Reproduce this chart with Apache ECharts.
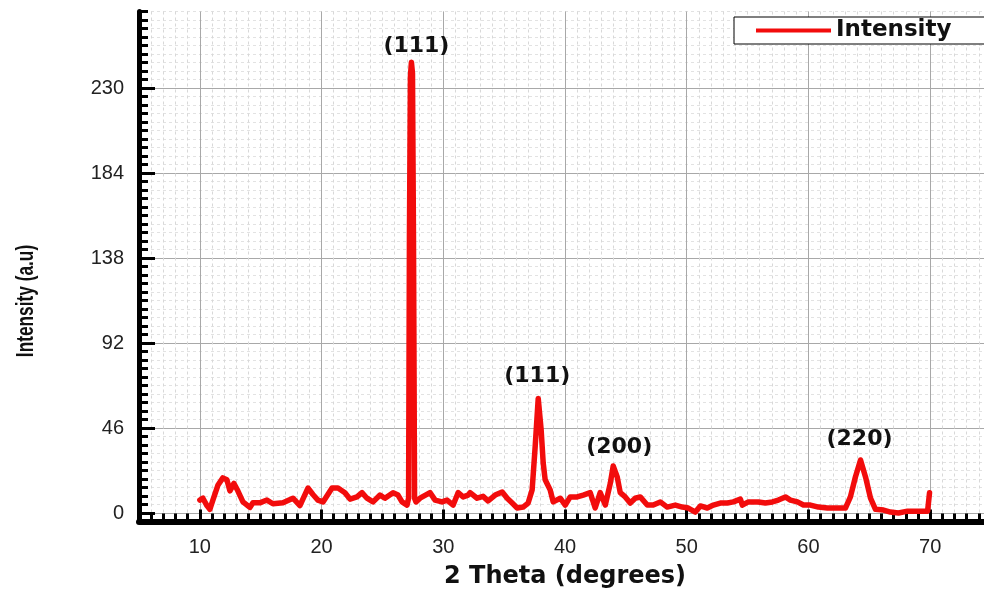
<!DOCTYPE html>
<html>
<head>
    <meta charset="utf-8">
    <script src="https://cdn.jsdelivr.net/npm/echarts@6/dist/echarts.min.js"></script>
    <style>
        html, body { margin: 0; padding: 0; background: #fff; }
        #chart { width: 984px; height: 591px; }
    </style>
</head>
<body>
<div id="chart"></div>
<script type="text/javascript">
    // 2 theta (degrees) and intensity (a.u)
    var twoTheta = [
        10.00, 10.25, 10.58, 10.82, 11.07, 11.48, 11.89, 12.22, 12.47, 12.80,
        13.12, 13.54, 14.11, 14.36, 14.93, 15.51, 16.00, 16.83, 17.65, 18.22,
        18.88, 19.29, 19.70, 20.12, 20.86, 21.35, 21.92, 22.34, 22.91, 23.32,
        23.73, 24.23, 24.80, 25.21, 25.87, 26.28, 26.61, 27.02, 27.15, 27.22,
        27.30, 27.38, 27.47, 27.55, 27.64, 27.76, 28.09, 28.91, 29.33, 29.90,
        30.31, 30.81, 31.22, 31.63, 32.04, 32.20, 32.78, 33.27, 33.68, 34.26,
        34.84, 35.25, 35.66, 36.07, 36.56, 36.97, 37.30, 37.55, 37.80, 38.04,
        38.21, 38.37, 38.78, 39.03, 39.61, 40.02, 40.43, 41.00, 41.50, 42.07,
        42.48, 42.89, 43.31, 43.72, 43.96, 44.29, 44.54, 44.95, 45.36, 45.77,
        46.18, 46.76, 47.25, 47.83, 48.40, 49.06, 49.64, 50.13, 50.71, 51.12,
        51.69, 52.19, 52.76, 53.34, 53.83, 54.41, 54.57, 55.07, 55.89, 56.46,
        57.04, 57.53, 58.11, 58.52, 59.10, 59.59, 60.16, 60.82, 61.56, 62.22,
        63.04, 63.45, 63.86, 64.28, 64.69, 65.10, 65.51, 66.17, 66.74, 67.40,
        68.14, 68.80, 69.46, 69.79, 69.95
    ];
    var intensity = [
        7, 8, 4, 2, 7, 15, 19, 18, 12, 16,
        12, 6, 3, 5.5, 5.5, 7, 5, 5.5, 8, 4,
        13.5, 10, 7, 6, 13.5, 13.5, 11, 7.5, 8.7, 11,
        8, 6, 9.7, 8, 11, 9.7, 6, 4.3, 8, 150,
        236, 244, 238, 150, 8, 6, 8, 11, 7, 6,
        7, 4.3, 11, 8.7, 9.7, 11, 8, 9, 6.5, 9.7,
        11.4, 8, 5.4, 2.7, 3.2, 5.4, 12.5, 36, 62, 45,
        27, 18, 12.5, 6, 8, 4.3, 8.7, 8.7, 9.7, 11,
        2.7, 11, 4.3, 16, 25.4, 19.5, 11, 8.7, 5.4, 8,
        8.7, 4.3, 4.3, 6, 3.2, 4.3, 3.2, 2.7, 0.5, 3.8,
        2.7, 4.3, 5.4, 5.4, 6, 7.5, 4.3, 6, 6, 5.4,
        6, 7, 8.7, 7, 6, 4.3, 4.3, 3.2, 2.7, 2.7,
        2.7, 8.7, 19.5, 28.7, 19.5, 8, 2, 1.6, 0.5, 0,
        1, 1, 1, 1, 11
    ];
    // peak labels (hkl) at the peak tops
    var peakNames = ['(111)', '(111)', '(200)', '(220)'];
    var peakTheta = [27.38, 37.80, 43.96, 64.28];
    var peakValue = [244, 62, 25.4, 28.7];
    var peakOffset = [[5, -16], [-1, -22], [6, -19], [-1, -21]];

    var xMajor = [10, 20, 30, 40, 50, 60, 70];
    var yMajor = [0, 46, 92, 138, 184, 230];

    var seriesData = twoTheta.map(function (t, i) { return [t, intensity[i]]; });
    var peakData = peakNames.map(function (n, i) {
        return { name: n, coord: [peakTheta[i], peakValue[i]], label: { offset: peakOffset[i] } };
    });

    var tickFont = 'Liberation Sans, Arial, sans-serif';
    var boldFont = 'DejaVu Sans, Verdana, sans-serif';

    var myChart = echarts.init(document.getElementById('chart'));
    myChart.setOption({
        animation: false,
        backgroundColor: '#fff',
        grid: { left: 139, width: 852, top: 11.5, bottom: 69.5, outerBoundsMode: 'none', containLabel: false },
        legend: {
            left: 734,
            top: 17,
            data: ['Intensity'],
            selectedMode: false,
            icon: 'rect',
            itemWidth: 75,
            itemHeight: 4,
            backgroundColor: '#fff',
            borderColor: '#000',
            borderWidth: 1,
            borderRadius: 0,
            padding: [2, 40, 2, 22],
            textStyle: { fontFamily: boldFont, fontWeight: 'bold', fontSize: 23, color: '#111' }
        },
        // y axis title, drawn a little condensed like the original
        graphic: [
            {
                type: 'text',
                x: 26,
                y: 301,
                rotation: Math.PI / 2,
                scaleX: 0.72,
                style: {
                    text: 'Intensity (a.u)',
                    font: 'bold 24px "Liberation Sans", Arial, sans-serif',
                    fill: '#111',
                    align: 'center',
                    verticalAlign: 'middle'
                }
            }
        ],
        xAxis: [
            {
                type: 'value', min: 5, max: 75, interval: 1,
                name: '2 Theta (degrees)', nameLocation: 'middle', nameGap: 43,
                nameTextStyle: { fontFamily: boldFont, fontWeight: 'bold', fontSize: 24, color: '#111' },
                axisLine: { onZero: false, lineStyle: { color: '#000', width: 6 } },
                axisTick: { inside: true, length: 8, lineStyle: { color: '#000', width: 3 } },
                axisLabel: {
                    margin: 16, fontFamily: tickFont, fontSize: 20, color: '#222',
                    formatter: function (v) { return Math.round(v) % 10 === 0 && v > 5 && v < 75 ? Math.round(v) : ''; }
                },
                splitLine: { show: true, lineStyle: { color: '#d8d8d8', width: 1, type: [3, 3] } }
            },
            {
                type: 'value', min: 5, max: 75, position: 'bottom',
                axisLine: { show: false, onZero: false },
                axisTick: { inside: true, length: 12, customValues: xMajor, lineStyle: { color: '#000', width: 3 } },
                axisLabel: { show: false },
                splitLine: { show: true, lineStyle: { color: '#a8a8a8', width: 1 } }
            }
        ],
        yAxis: [
            {
                type: 'value', min: -4.6, max: 271.4, interval: 4.6,
                axisLine: { show: true, onZero: false, lineStyle: { color: '#000', width: 5 } },
                axisTick: { inside: true, length: 9, lineStyle: { color: '#000', width: 3 } },
                axisLabel: { show: false },
                splitLine: { show: true, lineStyle: { color: '#e2e2e2', width: 1, type: [3, 3] } }
            },
            {
                type: 'value', min: -4.6, max: 271.4, position: 'left',
                axisLine: { show: false, onZero: false },
                axisTick: { inside: true, length: 16, customValues: yMajor, lineStyle: { color: '#000', width: 3 } },
                axisLabel: { customValues: yMajor, margin: 15, fontFamily: tickFont, fontSize: 20, color: '#222' },
                splitLine: { show: true, lineStyle: { color: '#a8a8a8', width: 1 } }
            }
        ],
        series: [
            {
                name: 'Intensity',
                type: 'line',
                xAxisIndex: 0,
                yAxisIndex: 0,
                symbol: 'none',
                data: seriesData,
                lineStyle: { color: '#f20c0c', width: 5.5, join: 'round', cap: 'round' },
                itemStyle: { color: '#f20c0c' },
                markPoint: {
                    symbol: 'rect',
                    symbolSize: 0,
                    silent: true,
                    label: {
                        show: true, position: 'inside', formatter: '{b}',
                        fontFamily: boldFont, fontWeight: 'bold', fontSize: 22, color: '#111'
                    },
                    data: peakData
                }
            }
        ]
    });
    window.addEventListener('resize', function () {
        myChart.resize();
    });
</script>
</body>
</html>
